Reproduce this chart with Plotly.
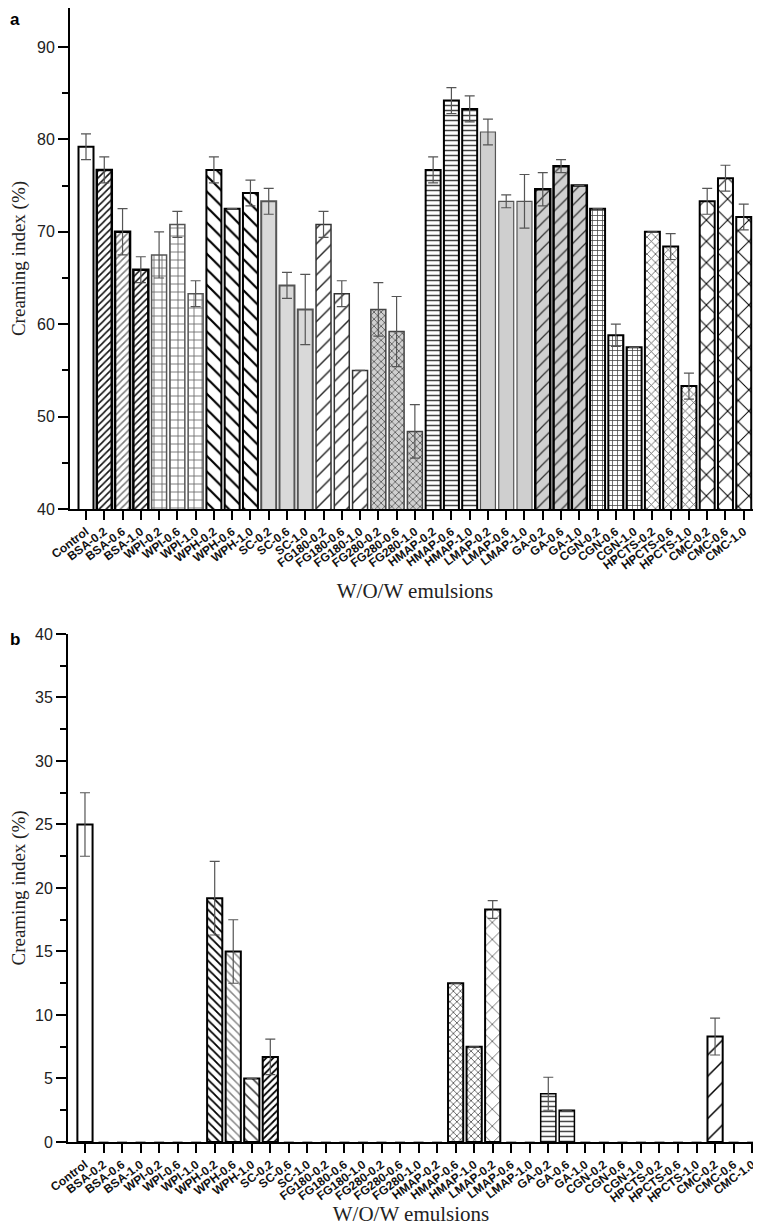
import plotly.graph_objects as go

# ---------------- data ----------------
categories = ["Control", "BSA-0.2", "BSA-0.6", "BSA-1.0", "WPI-0.2", "WPI-0.6", "WPI-1.0",
              "WPH-0.2", "WPH-0.6", "WPH-1.0", "SC-0.2", "SC-0.6", "SC-1.0",
              "FG180-0.2", "FG180-0.6", "FG180-1.0", "FG280-0.2", "FG280-0.6", "FG280-1.0",
              "HMAP-0.2", "HMAP-0.6", "HMAP-1.0", "LMAP-0.2", "LMAP-0.6", "LMAP-1.0",
              "GA-0.2", "GA-0.6", "GA-1.0", "CGN-0.2", "CGN-0.6", "CGN-1.0",
              "HPCTS-0.2", "HPCTS-0.6", "HPCTS-1.0", "CMC-0.2", "CMC-0.6", "CMC-1.0"]

creaming_a = [79.2, 76.7, 70.0, 65.9, 67.5, 70.8, 63.3,
              76.7, 72.5, 74.2, 73.3, 64.2, 61.6,
              70.8, 63.3, 55.0, 61.6, 59.2, 48.4,
              76.7, 84.2, 83.3, 80.8, 73.3, 73.3,
              74.6, 77.1, 75.0, 72.5, 58.8, 57.5,
              70.0, 68.4, 53.3, 73.3, 75.8, 71.6]
error_a = [1.4, 1.4, 2.5, 1.4, 2.5, 1.4, 1.4,
           1.4, None, 1.4, 1.4, 1.4, 3.8,
           1.4, 1.4, None, 2.9, 3.8, 2.9,
           1.4, 1.4, 1.4, 1.4, 0.7, 2.9,
           1.8, 0.7, None, None, 1.2, None,
           None, 1.4, 1.4, 1.4, 1.4, 1.4]

creaming_b = [25.0, 0, 0, 0, 0, 0, 0,
              19.2, 15.0, 5.0, 6.7, 0, 0,
              0, 0, 0, 0, 0, 0,
              0, 12.5, 7.5, 18.3, 0, 0,
              3.8, 2.5, 0, 0, 0, 0,
              0, 0, 0, 8.3, 0, 0]
error_b = [2.5, None, None, None, None, None, None,
           2.9, 2.5, None, 1.4, None, None,
           None, None, None, None, None, None,
           None, None, None, 0.7, None, None,
           1.3, None, None, None, None, None,
           None, None, None, 1.45, None, None]

y_ticks_a = [40, 50, 60, 70, 80, 90]
y_ticks_b = [0, 5, 10, 15, 20, 25, 30, 35, 40]

# ---------------- styles ----------------
# (shape, fgcolor, bgcolor, size, solidity, linecolor, linewidth)
STY = {
    "plain":    ("", "black", "white", 8, 0.3, "black", 2),
    "zero":     ("", "black", "white", 8, 0.3, "black", 0),
    "bsa_d":    ("/", "#111111", "white", 5, 0.32, "black", 2.5),
    "bsa_l":    ("/", "#7a7a7a", "white", 5, 0.3, "black", 2.5),
    "wpi":      ("+", "#666666", "white", 8, 0.2, "#555555", 1.5),
    "wph":      ("\\", "black", "white", 11, 0.2, "black", 2),
    "sc":       ("", "black", "#d9d9d9", 8, 0.3, "#555555", 2),
    "fg180":    ("/", "#222222", "white", 11, 0.13, "#333333", 1.5),
    "fg280":    ("x", "#555555", "#d0d0d0", 5, 0.3, "#444444", 1.5),
    "hmap":     ("-", "#444444", "white", 5, 0.3, "black", 2),
    "lmap":     ("", "black", "#cfcfcf", 8, 0.3, "#555555", 1.2),
    "ga":       ("/", "#333333", "#d0d0d0", 9, 0.14, "black", 2.5),
    "cgn":      ("+", "#444444", "white", 5, 0.28, "black", 2),
    "hpcts":    ("x", "#555555", "white", 6, 0.25, "black", 2),
    "cmc":      ("x", "black", "white", 15, 0.13, "black", 2),
    # panel b
    "b_wph02":  ("\\", "black", "white", 6, 0.3, "black", 2),
    "b_wph06":  ("\\", "#888888", "white", 6, 0.25, "black", 2),
    "b_wph10":  ("\\", "#444444", "white", 8, 0.2, "black", 2),
    "b_sc02":   ("/", "black", "white", 5, 0.35, "black", 2),
    "b_hmap":   ("x", "#444444", "white", 5, 0.28, "black", 2),
    "b_lmap":   ("x", "#444444", "white", 12, 0.12, "black", 2),
    "b_ga":     ("-", "#444444", "white", 5, 0.3, "black", 1.5),
    "b_cmc":    ("/", "black", "white", 15, 0.1, "black", 2),
}

style_a = ["plain", "bsa_d", "bsa_l", "bsa_d", "wpi", "wpi", "wpi",
           "wph", "wph", "wph", "sc", "sc", "sc",
           "fg180", "fg180", "fg180", "fg280", "fg280", "fg280",
           "hmap", "hmap", "hmap", "lmap", "lmap", "lmap",
           "ga", "ga", "ga", "cgn", "cgn", "cgn",
           "hpcts", "hpcts", "hpcts", "cmc", "cmc", "cmc"]
style_b = ["plain" if v > 0 else "zero" for v in creaming_b]
for i, k in {7: "b_wph02", 8: "b_wph06", 9: "b_wph10", 10: "b_sc02",
             20: "b_hmap", 21: "b_hmap", 22: "b_lmap", 25: "b_ga", 26: "b_ga",
             34: "b_cmc"}.items():
    style_b[i] = k

fig = go.Figure()


def add_bars(vals, errs, styles, xa, ya):
    for key in dict.fromkeys(styles):
        idx = [i for i, s in enumerate(styles) if s == key]
        shape, fg, bg, size, sol, lc, lw = STY[key]
        fig.add_trace(go.Bar(
            x=[categories[i] for i in idx], y=[vals[i] for i in idx],
            xaxis=xa, yaxis=ya, width=0.82,
            marker=dict(color=bg, line=dict(color=lc, width=lw),
                        pattern=dict(shape=shape, fgcolor=fg, bgcolor=bg, size=size,
                                     solidity=sol, fillmode="replace")),
            error_y=dict(type="data", array=[errs[i] for i in idx], visible=True,
                         color="#555555", thickness=1.2, width=5),
            showlegend=False, hoverinfo="x+y",
        ))


add_bars(creaming_a, error_a, style_a, "x", "y")
add_bars(creaming_b, error_b, style_b, "x2", "y2")

tickfont_x = dict(family="Liberation Sans, Arial", size=12, color="#111111")
tickfont_y = dict(family="Liberation Sans, Arial", size=16, color="#222222")
title_font_y = dict(family="Liberation Serif, Times New Roman", size=19, color="#222222")
title_font_x = dict(family="Liberation Serif, Times New Roman", size=21, color="#222222")

common_x = dict(type="category", categoryorder="array", categoryarray=categories,
                showline=True, linecolor="black", linewidth=2,
                ticks="outside", ticklen=9, tickwidth=2, tickcolor="black",
                tickangle=-37, tickfont=tickfont_x, showgrid=False, zeroline=False,
                automargin=False, tickvals=categories,
                ticktext=[f"<b>{c}</b>" for c in categories])
common_y = dict(showline=True, linecolor="black", linewidth=2, ticks="outside",
                ticklen=10, tickwidth=2, tickcolor="black", tickfont=tickfont_y,
                showgrid=False, zeroline=False, automargin=False)

# page body has an 8px margin: figure is sized to fill the rest of the window
W, H = 753, 1218
fig.update_layout(
    width=W, height=H,
    margin=dict(l=60, r=1, t=0, b=84),
    plot_bgcolor="white", paper_bgcolor="white",
    barmode="overlay",
    xaxis=dict(common_x, domain=[2 / 692, 1.0], anchor="y", range=[-0.876, 36.89],
               title=dict(text="W/O/W emulsions", font=title_font_x, standoff=12)),
    yaxis=dict(common_y, domain=[0.5582, 1.0], anchor="x", range=[40, 94.22],
               tickvals=y_ticks_a,
               minor=dict(ticks="outside", ticklen=6, tickwidth=2, tickcolor="black", dtick=5, tick0=0),
               title=dict(text="Creaming index (%)", font=title_font_y, standoff=22)),
    xaxis2=dict(common_x, domain=[0.0, 686 / 692], anchor="y2", range=[-0.916, 36.1],
                title=dict(text="W/O/W emulsions", font=title_font_x, standoff=6)),
    yaxis2=dict(common_y, domain=[0.0, 0.448], anchor="x2", range=[0, 40],
                tickvals=y_ticks_b,
                minor=dict(ticks="outside", ticklen=6, tickwidth=2, tickcolor="black", dtick=2.5, tick0=0),
                title=dict(text="Creaming index (%)", font=title_font_y, standoff=22)),
    annotations=[
        dict(text="<b>a</b>", x=-60 / 692, y=1.0, xref="paper", yref="paper",
             xanchor="left", yanchor="top", showarrow=False,
             font=dict(family="Liberation Sans, Arial", size=17, color="black")),
        dict(text="<b>b</b>", x=-60 / 692, y=0.4533, xref="paper", yref="paper",
             xanchor="left", yanchor="top", showarrow=False,
             font=dict(family="Liberation Sans, Arial", size=17, color="black")),
    ],
)

fig.write_html("out.html")
